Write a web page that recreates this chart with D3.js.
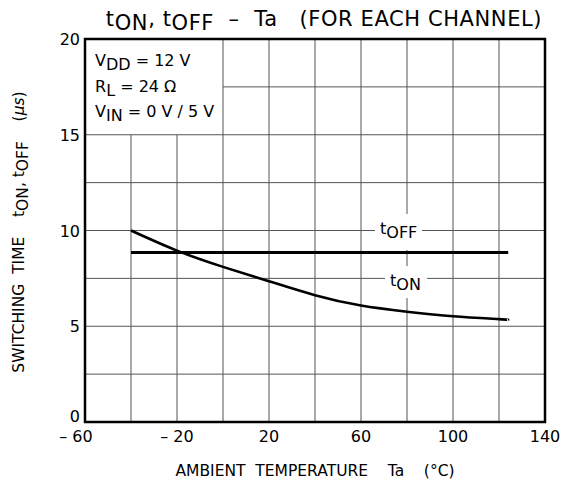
<!DOCTYPE html>
<html>
<head>
<meta charset="utf-8">
<script src="https://cdn.jsdelivr.net/npm/d3@7"></script>
<style>
  body { margin: 0; background: #fff; }
  text { font-family: "DejaVu Sans", sans-serif; fill: #000; }
</style>
</head>
<body>
<div id="graph"></div>
<script>
// values
var tempTa  = [-40, -20, 0, 20, 40, 60, 80, 100, 120, 124];
var tOn     = [10.0, 8.95, 8.1, 7.35, 6.62, 6.08, 5.76, 5.52, 5.37, 5.33];
var tOffTa  = [-40, 124];
var tOff    = [8.85, 8.85];
var xTicks  = [-60, -20, 20, 60, 100, 140];
var yTicks  = [0, 5, 10, 15, 20];
var xGrid   = [-40, -20, 0, 20, 40, 60, 80, 100, 120];
var yGrid   = [2.5, 5, 7.5, 10, 12.5, 15, 17.5];

const w = 562, h = 488;
const mLeft = 85, mRight = 545, mTop = 39, mBottom = 422;

const svg = d3.select("#graph").append("svg")
  .attr("width", w).attr("height", h);

const x = d3.scaleLinear().domain([-60, 140]).range([mLeft, mRight]);
const y = d3.scaleLinear().domain([0, 20]).range([mBottom, mTop]);

// grid
svg.selectAll("line.vg").data(xGrid).enter().append("line")
  .attr("x1", d => x(d)).attr("x2", d => x(d))
  .attr("y1", d => d < 0 ? y(15) : mTop).attr("y2", mBottom)
  .attr("stroke", "#555").attr("stroke-width", 1);
svg.selectAll("line.hg").data(yGrid).enter().append("line")
  .attr("x1", d => d > 15 ? x(0) : mLeft).attr("x2", mRight)
  .attr("y1", d => y(d)).attr("y2", d => y(d))
  .attr("stroke", "#555").attr("stroke-width", 1);

// white backing behind the curve labels
svg.append("rect").attr("x", 375).attr("y", 214).attr("width", 47).attr("height", 36).attr("fill", "#fff");
svg.append("rect").attr("x", 385).attr("y", 266).attr("width", 42).attr("height", 32).attr("fill", "#fff");

// curves
var line = d3.line().x(d => x(d[0])).y(d => y(d[1])).curve(d3.curveNatural);
svg.append("path").datum(d3.zip(tOffTa, tOff)).attr("d", line)
  .attr("fill", "none").attr("stroke", "#000").attr("stroke-width", 3);
svg.append("path").datum(d3.zip(tempTa, tOn)).attr("d", line)
  .attr("fill", "none").attr("stroke", "#000").attr("stroke-width", 2.6);

function subText(sel, parts) {
  parts.forEach(function (p, i) {
    var s = sel.append("tspan").text(p);
    if (i > 0) s.attr("dy", i % 2 ? 4 : -4);
  });
  return sel;
}
subText(svg.append("text").attr("x", 380).attr("y", 234).style("font-size", "16px"), ["t", "OFF"]);
subText(svg.append("text").attr("x", 390).attr("y", 286).style("font-size", "16px"), ["t", "ON"]);

// frame
svg.append("rect").attr("x", mLeft).attr("y", mTop)
  .attr("width", mRight - mLeft).attr("height", mBottom - mTop)
  .attr("fill", "none").attr("stroke", "#000").attr("stroke-width", 2.5);

// tick labels
svg.selectAll("text.xt").data(xTicks).enter().append("text")
  .attr("x", d => x(d) - (d === -60 ? 9 : 0)).attr("y", mBottom + 20)
  .attr("text-anchor", "middle").style("font-size", "16px")
  .text(d => d < 0 ? "\u2013 " + Math.abs(d) : d);
svg.selectAll("text.yt").data(yTicks).enter().append("text")
  .attr("x", mLeft - 5).attr("y", d => y(d) + (d === 0 ? 0 : 6))
  .attr("text-anchor", "end").style("font-size", "16px")
  .text(d => d);

// conditions
var conds = [["V", "DD", " = 12 V"], ["R", "L", " = 24 \u03A9"], ["V", "IN", " = 0 V / 5 V"]];
conds.forEach(function (c, i) {
  var t = svg.append("text").attr("x", 95).attr("y", 66 + i * 25.5)
    .style("font-size", "16px").attr("xml:space", "preserve");
  subText(t, c);
});

// title
subText(svg.append("text").attr("x", 324).attr("y", 26)
  .attr("text-anchor", "middle").style("font-size", "21px")
  .style("letter-spacing", "0.6px").attr("xml:space", "preserve"),
  ["t", "ON", ", t", "OFF", "  \u2013  Ta   (FOR EACH CHANNEL)"]);

// axis titles
svg.append("text").attr("x", 315).attr("y", 476)
  .attr("text-anchor", "middle").style("font-size", "15.5px")
  .attr("xml:space", "preserve")
  .text("AMBIENT  TEMPERATURE    Ta    (\u00B0C)");

var yl = svg.append("text").attr("transform", "translate(24, 232) rotate(-90)")
  .attr("text-anchor", "middle").style("font-size", "15.5px")
  .attr("xml:space", "preserve");
subText(yl, ["SWITCHING  TIME    t", "ON", ", t", "OFF", "    ("]);
yl.append("tspan").style("font-style", "italic").text("\u03BCs");
yl.append("tspan").text(")");
</script>
</body>
</html>
